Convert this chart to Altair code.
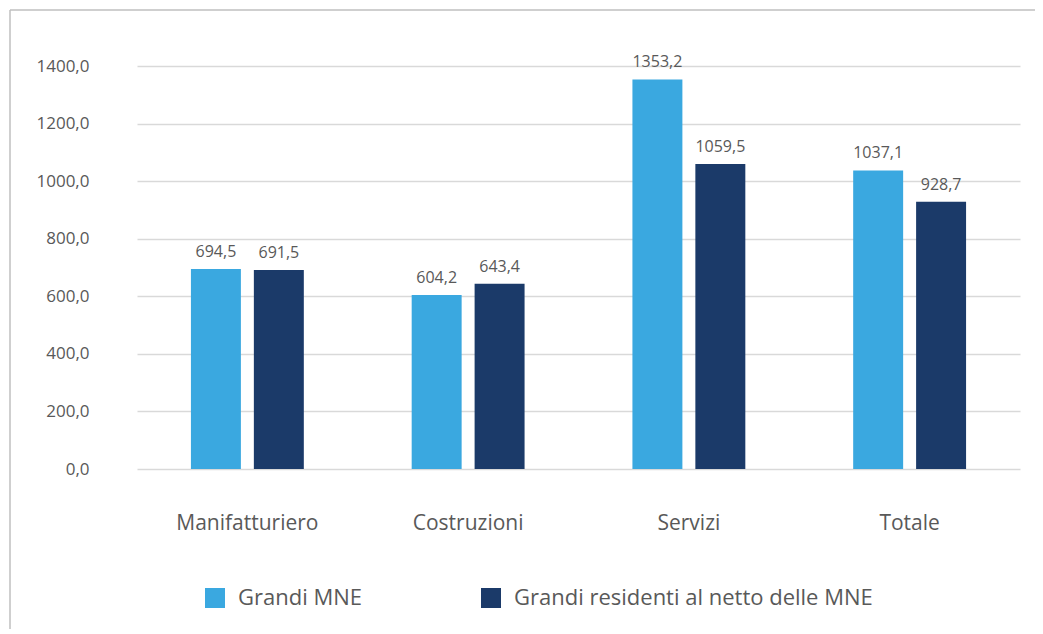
import altair as alt
import pandas as pd

categories = ["Manifatturiero", "Costruzioni", "Servizi", "Totale"]
series = ["Grandi MNE", "Grandi residenti al netto delle MNE"]
mne_values = [694.5, 604.2, 1353.2, 1037.1]
res_values = [691.5, 643.4, 1059.5, 928.7]
y_ticks = [0, 200, 400, 600, 800, 1000, 1200, 1400]
colors = ["#3AA8E0", "#1B3A69"]

rows = []
for c, a, b in zip(categories, mne_values, res_values):
    rows.append({"cat": c, "serie": series[0], "val": a})
    rows.append({"cat": c, "serie": series[1], "val": b})
df = pd.DataFrame(rows)
df["lbl"] = df["val"].map(lambda v: f"{v:.1f}".replace(".", ","))

FONT = "Open Sans"
GREY = "#595959"
W, H = 883, 403

x_enc = alt.X("cat:N", sort=categories, title=None,
              scale=alt.Scale(paddingInner=0, paddingOuter=0),
              axis=alt.Axis(domain=False, ticks=False, labelAngle=0, labelFontSize=21,
                            labelColor=GREY, labelFont=FONT, labelPadding=43))
xoff = alt.XOffset("serie:N", sort=series,
                   scale=alt.Scale(paddingInner=0.206, paddingOuter=0.857))
y_enc = alt.Y("val:Q", title=None,
              scale=alt.Scale(domain=[0, 1400], nice=False),
              axis=alt.Axis(values=y_ticks, domain=False, ticks=False, labelFontSize=17,
                            labelColor=GREY, labelFont=FONT, labelPadding=48,
                            gridColor="#d9d9d9", gridWidth=1.5,
                            labelExpr="replace(format(datum.value, '.1f'), '.', ',')"))

bars = alt.Chart(df).mark_bar().encode(
    x=x_enc, xOffset=xoff, y=y_enc,
    color=alt.Color("serie:N", sort=series, title=None,
                    scale=alt.Scale(domain=series, range=colors),
                    legend=alt.Legend(orient="none", legendX=67, legendY=521,
                                      direction="horizontal", symbolType="square",
                                      symbolSize=400, symbolStrokeWidth=0,
                                      labelFontSize=22, labelColor=GREY, labelFont=FONT,
                                      labelLimit=0, labelOffset=12, columnPadding=117))
)

texts = alt.Chart(df).mark_text(baseline="bottom", dy=-9, fontSize=16, color=GREY, font=FONT).encode(
    x=alt.X("cat:N", sort=categories), xOffset=alt.XOffset("serie:N", sort=series),
    y="val:Q", text="lbl:N"
)

border_data = pd.DataFrame({"k": [0]})
top_line = alt.Chart(border_data).mark_rule(color="#bfbfbf", strokeWidth=1.5).encode(
    x=alt.value(-127), x2=alt.value(1043 - 137), y=alt.value(-56))
left_line = alt.Chart(border_data).mark_rule(color="#bfbfbf", strokeWidth=1.5).encode(
    x=alt.value(-127), y=alt.value(-56), y2=alt.value(634 - 66))

chart = alt.layer(bars, texts, top_line, left_line).properties(
    width=W, height=H,
    autosize=alt.AutoSizeParams(type="none"),
    padding={"left": 129, "top": 58, "right": 15, "bottom": 160},
).configure_view(stroke=None).configure_scale(bandPaddingInner=0)

chart.save("out.html", embed_options={"renderer": "svg", "actions": False})
